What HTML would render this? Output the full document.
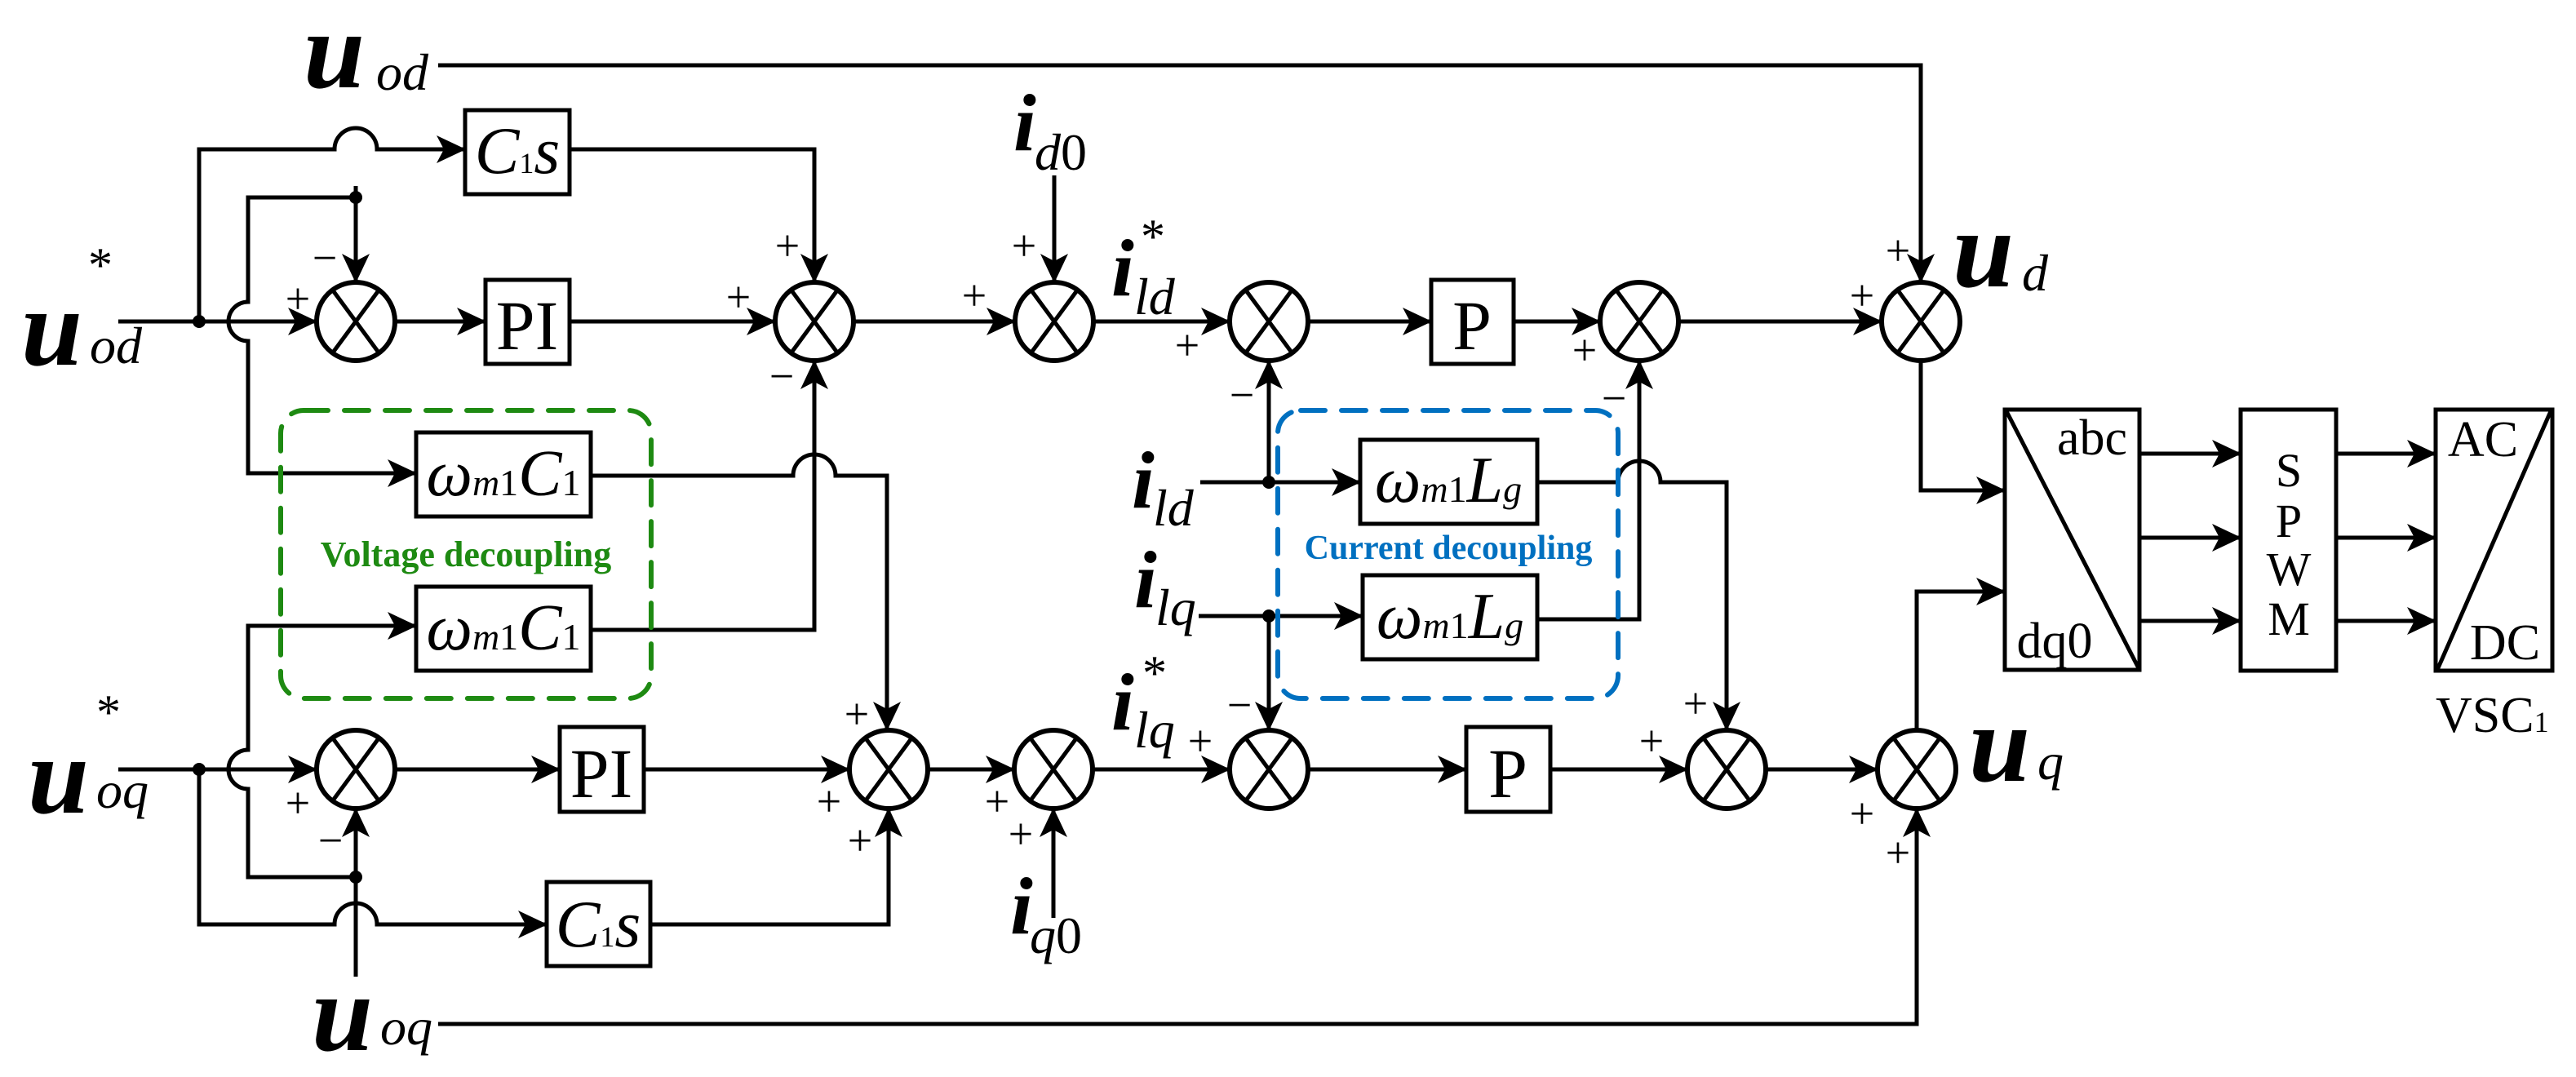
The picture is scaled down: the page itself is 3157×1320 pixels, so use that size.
<!DOCTYPE html>
<html><head><meta charset="utf-8"><style>
html,body{margin:0;padding:0;background:#fff;}
svg{display:block;}
text{font-family:"Liberation Serif","Times New Roman",serif;fill:#000;}
.u{font-weight:bold;font-style:italic;font-size:135px;}
.i{font-style:italic;font-weight:bold;font-size:100px;}
.s{font-style:italic;font-size:64px;}
.pm{font-size:54px;text-anchor:middle;}
</style></head><body>
<svg width="3157" height="1320" viewBox="0 0 3157 1320" xmlns="http://www.w3.org/2000/svg" font-family="Liberation Serif, serif">
<defs>
<marker id="a" viewBox="0 0 36 36" refX="35" refY="18" markerWidth="36" markerHeight="36" markerUnits="userSpaceOnUse" orient="auto">
<path d="M0,1 L36,18 L0,35 L9,18 Z" fill="#000"/>
</marker>
</defs>
<g fill="none" stroke="#000" stroke-width="5">
<path d="M537,80 H2354 V346" marker-end="url(#a)"/>
<path d="M436,228 V346" marker-end="url(#a)"/>
<path d="M244,394 V183 H410 A26,26 0 0 1 462,183 H570" marker-end="url(#a)"/>
<path d="M698,183 H998 V346" marker-end="url(#a)"/>
<path d="M145,394 H388" marker-end="url(#a)"/>
<path d="M436,242 H304 V370 A24,24 0 0 0 304,418 V580 H510" marker-end="url(#a)"/>
<path d="M484,394 H595" marker-end="url(#a)"/>
<path d="M698,394 H950" marker-end="url(#a)"/>
<path d="M1046,394 H1244" marker-end="url(#a)"/>
<path d="M1292,215 V346" marker-end="url(#a)"/>
<path d="M1340,394 H1507" marker-end="url(#a)"/>
<path d="M1603,394 H1754" marker-end="url(#a)"/>
<path d="M1855,394 H1961" marker-end="url(#a)"/>
<path d="M2057,394 H2306" marker-end="url(#a)"/>
<path d="M1471,591 H1667" marker-end="url(#a)"/>
<path d="M1555,591 V442" marker-end="url(#a)"/>
<path d="M1884,591 H1983 A26,26 0 0 1 2035,591 H2116 V895" marker-end="url(#a)"/>
<path d="M1469,755 H1670" marker-end="url(#a)"/>
<path d="M1555,755 V895" marker-end="url(#a)"/>
<path d="M1884,759 H2009 V442" marker-end="url(#a)"/>
<path d="M724,583 H972 A26,26 0 0 1 1024,583 H1087 V895" marker-end="url(#a)"/>
<path d="M724,772 H998 V442" marker-end="url(#a)"/>
<path d="M436,1075 H304 V967 A24,24 0 0 1 304,919 V767 H510" marker-end="url(#a)"/>
<path d="M145,943 H388" marker-end="url(#a)"/>
<path d="M484,943 H686" marker-end="url(#a)"/>
<path d="M789,943 H1041" marker-end="url(#a)"/>
<path d="M436,1197 V991" marker-end="url(#a)"/>
<path d="M244,943 V1133 H410 A26,26 0 0 1 462,1133 H670" marker-end="url(#a)"/>
<path d="M797,1133 H1089 V991" marker-end="url(#a)"/>
<path d="M1137,943 H1243" marker-end="url(#a)"/>
<path d="M1291,1125 V991" marker-end="url(#a)"/>
<path d="M1339,943 H1507" marker-end="url(#a)"/>
<path d="M1603,943 H1797" marker-end="url(#a)"/>
<path d="M1900,943 H2068" marker-end="url(#a)"/>
<path d="M2164,943 H2301" marker-end="url(#a)"/>
<path d="M537,1255 H2349 V991" marker-end="url(#a)"/>
<path d="M2354,442 V601 H2457" marker-end="url(#a)"/>
<path d="M2349,895 V725 H2457" marker-end="url(#a)"/>
<path d="M2622,556 H2746" marker-end="url(#a)"/>
<path d="M2622,659 H2746" marker-end="url(#a)"/>
<path d="M2622,761 H2746" marker-end="url(#a)"/>
<path d="M2863,556 H2985" marker-end="url(#a)"/>
<path d="M2863,659 H2985" marker-end="url(#a)"/>
<path d="M2863,761 H2985" marker-end="url(#a)"/>
<rect x="570" y="135" width="128" height="103"/>
<rect x="595" y="343" width="103" height="103"/>
<rect x="510" y="530" width="214" height="103"/>
<rect x="510" y="719" width="214" height="103"/>
<rect x="686" y="891" width="103" height="104"/>
<rect x="670" y="1081" width="127" height="103"/>
<rect x="1754" y="343" width="101" height="103"/>
<rect x="1797" y="891" width="103" height="104"/>
<rect x="1667" y="539" width="217" height="103"/>
<rect x="1670" y="705" width="214" height="103"/>
<rect x="2457" y="502" width="165" height="319"/>
<path d="M2459,504 L2622,821"/>
<rect x="2746" y="502" width="117" height="320"/>
<rect x="2985" y="502" width="143" height="320"/>
<path d="M3126,504 L2987,821"/>
</g>
<g fill="none" stroke="#000" stroke-width="6">
<g transform="translate(436,394)"><circle r="48"/><path d="M-28,-38 L28,38 M28,-38 L-28,38" stroke-width="5"/></g>
<g transform="translate(998,394)"><circle r="48"/><path d="M-28,-38 L28,38 M28,-38 L-28,38" stroke-width="5"/></g>
<g transform="translate(1292,394)"><circle r="48"/><path d="M-28,-38 L28,38 M28,-38 L-28,38" stroke-width="5"/></g>
<g transform="translate(1555,394)"><circle r="48"/><path d="M-28,-38 L28,38 M28,-38 L-28,38" stroke-width="5"/></g>
<g transform="translate(2009,394)"><circle r="48"/><path d="M-28,-38 L28,38 M28,-38 L-28,38" stroke-width="5"/></g>
<g transform="translate(2354,394)"><circle r="48"/><path d="M-28,-38 L28,38 M28,-38 L-28,38" stroke-width="5"/></g>
<g transform="translate(436,943)"><circle r="48"/><path d="M-28,-38 L28,38 M28,-38 L-28,38" stroke-width="5"/></g>
<g transform="translate(1089,943)"><circle r="48"/><path d="M-28,-38 L28,38 M28,-38 L-28,38" stroke-width="5"/></g>
<g transform="translate(1291,943)"><circle r="48"/><path d="M-28,-38 L28,38 M28,-38 L-28,38" stroke-width="5"/></g>
<g transform="translate(1555,943)"><circle r="48"/><path d="M-28,-38 L28,38 M28,-38 L-28,38" stroke-width="5"/></g>
<g transform="translate(2116,943)"><circle r="48"/><path d="M-28,-38 L28,38 M28,-38 L-28,38" stroke-width="5"/></g>
<g transform="translate(2349,943)"><circle r="48"/><path d="M-28,-38 L28,38 M28,-38 L-28,38" stroke-width="5"/></g>
</g>
<g fill="#000">
<circle cx="244" cy="394" r="8"/><circle cx="436" cy="242" r="8"/>
<circle cx="244" cy="943" r="8"/><circle cx="436" cy="1075" r="8"/>
<circle cx="1555" cy="591" r="8"/><circle cx="1555" cy="755" r="8"/>
</g>
<rect x="344" y="503" width="454" height="353" rx="28" fill="none" stroke="#1e8a12" stroke-width="6" stroke-dasharray="30,20" stroke-linecap="round"/>
<rect x="1566" y="503" width="417" height="353" rx="28" fill="none" stroke="#0070c0" stroke-width="6" stroke-dasharray="30,20" stroke-linecap="round"/>
<text x="571" y="694" text-anchor="middle" font-weight="bold" font-size="44" style="fill:#1e8a12">Voltage decoupling</text>
<text x="1775" y="685" text-anchor="middle" font-weight="bold" font-size="42" style="fill:#0070c0">Current decoupling</text>
<text x="634" y="212" text-anchor="middle" font-size="82" font-style="italic">C<tspan font-size="36" font-style="normal">1</tspan>s</text>
<text x="646" y="428" text-anchor="middle" font-size="86">PI</text>
<text x="737" y="977" text-anchor="middle" font-size="86">PI</text>
<text x="733" y="1160" text-anchor="middle" font-size="82" font-style="italic">C<tspan font-size="36" font-style="normal">1</tspan>s</text>
<text x="1804" y="428" text-anchor="middle" font-size="86">P</text>
<text x="1848" y="977" text-anchor="middle" font-size="86">P</text>
<text x="617" y="607" text-anchor="middle" font-size="80"><tspan font-style="italic">ω</tspan><tspan font-size="46" font-style="italic">m</tspan><tspan font-size="46">1</tspan><tspan font-style="italic">C</tspan><tspan font-size="46">1</tspan></text>
<text x="617" y="796" text-anchor="middle" font-size="80"><tspan font-style="italic">ω</tspan><tspan font-size="46" font-style="italic">m</tspan><tspan font-size="46">1</tspan><tspan font-style="italic">C</tspan><tspan font-size="46">1</tspan></text>
<text x="1775" y="615" text-anchor="middle" font-size="80"><tspan font-style="italic">ω</tspan><tspan font-size="46" font-style="italic">m</tspan><tspan font-size="46">1</tspan><tspan font-style="italic">L</tspan><tspan font-size="46" font-style="italic">g</tspan></text>
<text x="1777" y="782" text-anchor="middle" font-size="80"><tspan font-style="italic">ω</tspan><tspan font-size="46" font-style="italic">m</tspan><tspan font-size="46">1</tspan><tspan font-style="italic">L</tspan><tspan font-size="46" font-style="italic">g</tspan></text>
<text x="2564" y="557" text-anchor="middle" font-size="62">abc</text>
<text x="2518" y="806" text-anchor="middle" font-size="62">dq0</text>
<g font-size="58" text-anchor="middle">
<text x="2805" y="596">S</text><text x="2805" y="658">P</text><text x="2805" y="717">W</text><text x="2805" y="778">M</text>
</g>
<text x="3043" y="559" text-anchor="middle" font-size="62">AC</text>
<text x="3070" y="808" text-anchor="middle" font-size="62">DC</text>
<text x="2985" y="897" font-size="62">VSC<tspan font-size="36">1</tspan></text>
<text x="372" y="107" class="u">u</text><text x="461" y="110" class="s">od</text>
<text x="26" y="447" class="u">u</text><text x="110" y="445" class="s">od</text><text x="108" y="345" font-size="60">*</text>
<text x="34" y="996" class="u">u</text><text x="118" y="990" class="s">oq</text><text x="118" y="893" font-size="60">*</text>
<text x="382" y="1287" class="u">u</text><text x="466" y="1280" class="s">oq</text>
<text x="2393" y="351" class="u">u</text><text x="2478" y="356" class="s">d</text>
<text x="2413" y="957" class="u">u</text><text x="2497" y="955" class="s">q</text>
<text x="1242" y="184" class="i">i</text><text x="1268" y="208" class="s">d<tspan font-style="normal">0</tspan></text>
<text x="1362" y="362" class="i">i</text><text x="1390" y="385" class="s">ld</text><text x="1398" y="310" font-size="60">*</text>
<text x="1387" y="622" class="i">i</text><text x="1413" y="644" class="s">ld</text>
<text x="1390" y="744" class="i">i</text><text x="1416" y="766" class="s">lq</text>
<text x="1362" y="894" class="i">i</text><text x="1390" y="916" class="s">lq</text><text x="1400" y="845" font-size="60">*</text>
<text x="1238" y="1144" class="i">i</text><text x="1262" y="1168" class="s">q<tspan font-style="normal">0</tspan></text>
<g>
<text x="398" y="334" class="pm">−</text><text x="365" y="384" class="pm">+</text>
<text x="965" y="319" class="pm">+</text><text x="905" y="382" class="pm">+</text><text x="958" y="479" class="pm">−</text>
<text x="1255" y="319" class="pm">+</text><text x="1194" y="380" class="pm">+</text>
<text x="1455" y="441" class="pm">+</text><text x="1522" y="502" class="pm">−</text>
<text x="1942" y="447" class="pm">+</text><text x="1978" y="506" class="pm">−</text>
<text x="2326" y="325" class="pm">+</text><text x="2282" y="380" class="pm">+</text>
<text x="365" y="1002" class="pm">+</text><text x="405" y="1048" class="pm">−</text>
<text x="1050" y="893" class="pm">+</text><text x="1016" y="1000" class="pm">+</text><text x="1054" y="1048" class="pm">+</text>
<text x="1222" y="1000" class="pm">+</text><text x="1251" y="1040" class="pm">+</text>
<text x="1471" y="926" class="pm">+</text><text x="1519" y="882" class="pm">−</text>
<text x="2078" y="880" class="pm">+</text><text x="2024" y="926" class="pm">+</text>
<text x="2282" y="1015" class="pm">+</text><text x="2326" y="1063" class="pm">+</text>
</g>
</svg>
</body></html>
